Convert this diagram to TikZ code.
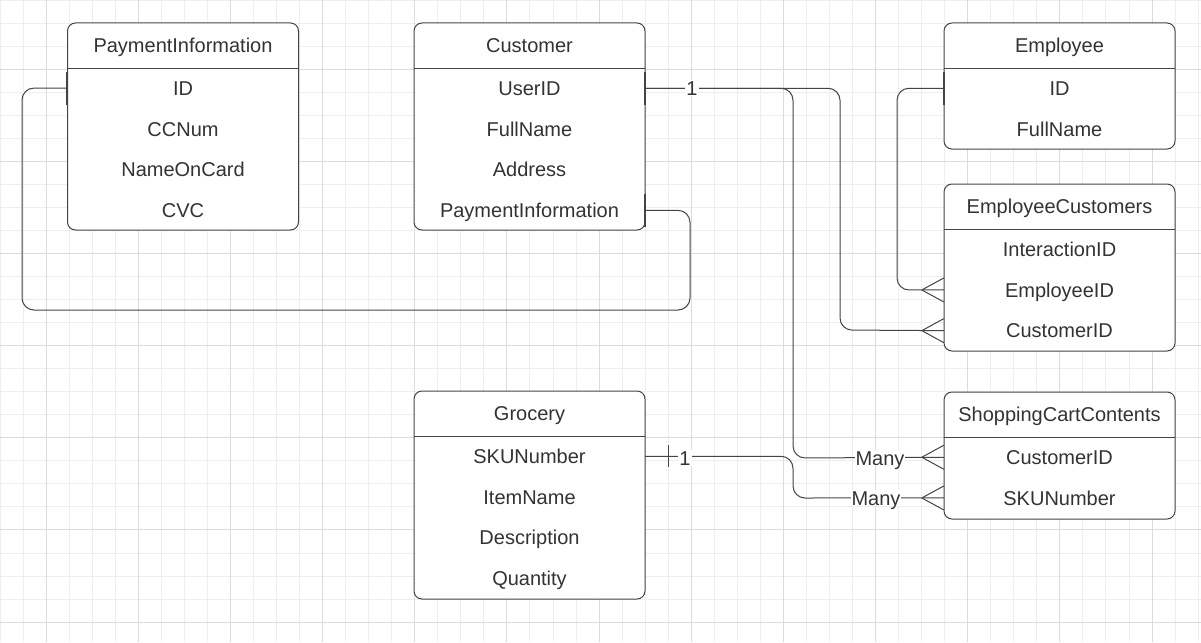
\documentclass[tikz,border=0pt]{standalone}
\usepackage{fontspec}
\setmainfont{Liberation Sans}
\usetikzlibrary{positioning}

\definecolor{ink}{HTML}{333333}
\definecolor{edge}{HTML}{444444}
\definecolor{gridlo}{HTML}{EEEEEE}
\definecolor{gridhi}{HTML}{DCDCDC}

\begin{document}
\begin{tikzpicture}[x=1pt,y=-1pt,
  ent/.style={draw=edge, line width=1pt, rounded corners=8pt, minimum width=231pt, inner sep=0pt, fill=white},
  attr/.style={minimum width=231pt, minimum height=40.3pt, inner sep=0pt, text height=14.3pt, text depth=0pt, text=ink, font=\fontsize{20}{24}\selectfont},
  title/.style={attr, minimum height=46pt},
  conn/.style={draw=edge, line width=1pt, rounded corners=12pt},
  foot/.style={draw=edge, line width=1pt},
  one/.style={draw=edge, line width=2.2pt},
  card/.style={fill=white, inner sep=1pt, text height=14.3pt, text depth=0pt, text=ink, font=\fontsize{20}{24}\selectfont},
]

\fill[white] (0,0) rectangle (1201,642);
\useasboundingbox (0,0) rectangle (1201,642);

% grid paper
\foreach \i in {0,...,52} \draw[gridlo, line width=0.9pt] (\i*23.04,0) -- (\i*23.04,642);
\foreach \j in {0,...,27} \draw[gridlo, line width=0.9pt] (0,\j*23.04) -- (1201,\j*23.04);
\foreach \i in {0,...,12} \draw[gridhi, line width=0.9pt] (46.08+\i*92.16,0) -- ++(0,642);
\foreach \j in {0,...,6} \draw[gridhi, line width=0.9pt] (0,69.12+\j*92.16) -- ++(1201,0);

% tables
\node[ent, minimum height=207pt] (pay) at (183,126.5) {};
\node[title, below=0pt of pay.north] (pay-t) {PaymentInformation};
\draw[foot] (pay-t.south west) -- (pay-t.south east);
\node[attr, below=-1pt of pay-t] (pay-id) {ID};
\node[attr, below=0pt of pay-id] (pay-cc) {CCNum};
\node[attr, below=0pt of pay-cc] (pay-name) {NameOnCard};
\node[attr, below=0pt of pay-name] (pay-cvc) {CVC};

\node[ent, minimum height=207pt] (cu) at (529.5,126.5) {};
\node[title, below=0pt of cu.north] (cu-t) {Customer};
\draw[foot] (cu-t.south west) -- (cu-t.south east);
\node[attr, below=-1pt of cu-t] (cu-uid) {UserID};
\node[attr, below=0pt of cu-uid] (cu-name) {FullName};
\node[attr, below=0pt of cu-name] (cu-addr) {Address};
\node[attr, below=0pt of cu-addr] (cu-pay) {PaymentInformation};

\node[ent, minimum height=126pt] (em) at (1059.5,86) {};
\node[title, below=0pt of em.north] (em-t) {Employee};
\draw[foot] (em-t.south west) -- (em-t.south east);
\node[attr, below=-1pt of em-t] (em-id) {ID};
\node[attr, below=0pt of em-id] (em-name) {FullName};

\node[ent, minimum height=167pt] (ec) at (1059.5,267.5) {};
\node[title, below=0pt of ec.north] (ec-t) {EmployeeCustomers};
\draw[foot] (ec-t.south west) -- (ec-t.south east);
\node[attr, below=-1pt of ec-t] (ec-iid) {InteractionID};
\node[attr, below=0pt of ec-iid] (ec-eid) {EmployeeID};
\node[attr, below=0pt of ec-eid] (ec-cid) {CustomerID};

\node[ent, minimum height=208pt] (gr) at (529.5,495) {};
\node[title, below=0pt of gr.north] (gr-t) {Grocery};
\draw[foot] (gr-t.south west) -- (gr-t.south east);
\node[attr, below=-1pt of gr-t] (gr-sku) {SKUNumber};
\node[attr, below=0pt of gr-sku] (gr-item) {ItemName};
\node[attr, below=0pt of gr-item] (gr-desc) {Description};
\node[attr, below=0pt of gr-desc] (gr-qty) {Quantity};

\node[ent, minimum height=127pt] (sc) at (1059.5,455.5) {};
\node[title, below=0pt of sc.north] (sc-t) {ShoppingCartContents};
\draw[foot] (sc-t.south west) -- (sc-t.south east);
\node[attr, below=-1pt of sc-t] (sc-cid) {CustomerID};
\node[attr, below=0pt of sc-cid] (sc-sku) {SKUNumber};

% bends
\coordinate (payA) at (690,310);
\coordinate (payB) at (22,88);
\coordinate (cartA) at (793,458);
\coordinate (cartB) at (793,498);
\coordinate (ecA) at (840,330);
\coordinate (emA) at (897,290);

% relations
\draw[conn] (cu-pay.east) -| (payA) -| (payB) -- (pay-id.west);
\draw[conn] (cu-uid.east) -| (cartA) -- (sc-cid.west);
\draw[conn] (cu-uid.east) -| (ecA) -- (ec-cid.west);
\draw[conn] (em-id.west) -| (emA) -- (ec-eid.west);
\draw[conn] (gr-sku.east) -| (cartB) -- (sc-sku.west);

% one ends
\foreach \r/\s in {cu-uid/east, cu-pay/east, pay-id/west, em-id/west}
  \draw[one] ([yshift=16.5pt]\r.\s) -- ([yshift=-16.5pt]\r.\s);
\draw[foot] ([xshift=23pt,yshift=11pt]gr-sku.east) -- ([xshift=23pt,yshift=-11pt]gr-sku.east);

% many ends
\foreach \r in {ec-eid, ec-cid, sc-cid, sc-sku}
  \draw[foot] (\r.west) ++(-22,0) -- ++(22,-12) ++(-22,12) -- ++(22,12);

% labels
\node[card] (one-a) at (692,88) {1};
\node[card] (one-b) at (685,458) {1};
\node[card] (many-a) at (880,458) {Many};
\node[card] (many-b) at (876,498) {Many};

\end{tikzpicture}
\end{document}
